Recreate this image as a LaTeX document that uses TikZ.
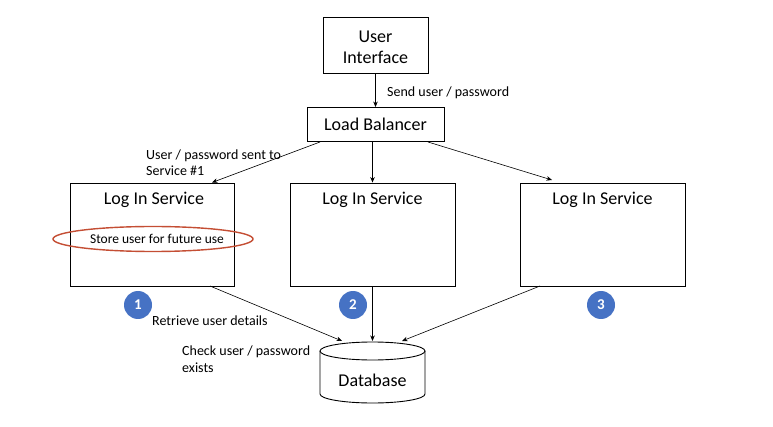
\documentclass[tikz,border=0pt]{standalone}
\usepackage{fontspec}
\setmainfont{Carlito}
\usetikzlibrary{arrows.meta,shapes.geometric}
\definecolor{numblue}{RGB}{70,114,196}
\definecolor{ringred}{RGB}{196,78,52}
\begin{document}
\begin{tikzpicture}[x=1pt,y=-1pt,
  box/.style={draw,line width=0.9pt,inner sep=0pt},
  boxtext/.style={font=\fontsize{18}{21}\selectfont},
  lbl/.style={font=\fontsize{14}{16.5}\selectfont,align=left,inner sep=0pt},
  conn/.style={line width=0.6pt,-{Stealth[length=5.5pt,width=4.5pt]}},
  num/.style={circle,fill=numblue,text=white,minimum size=28pt,inner sep=0pt,font=\fontsize{15}{17}\selectfont\bfseries}]
\useasboundingbox (0,0) rectangle (773,427);
% boxes
\node[box,minimum width=105pt,minimum height=56pt,inner sep=0pt] (ui) at (375.5,45.5) {};
\node[boxtext,align=center] (uit) at (375.5,47) {User\\Interface};
\node[box,minimum width=137pt,minimum height=34pt,boxtext] (lb) at (375.5,124.5) {Load Balancer};
\node[box,minimum width=164pt,minimum height=103pt] (s1) at (152,234.5) {};
\node[box,minimum width=165pt,minimum height=103pt] (s2) at (372.5,234.5) {};
\node[box,minimum width=165pt,minimum height=103pt] (s3) at (602.5,234.5) {};
\node[boxtext,anchor=base] (t1) at (154,205) {Log In Service};
\node[boxtext,anchor=base] (t2) at (372.5,205) {Log In Service};
\node[boxtext,anchor=base] (t3) at (602.5,205) {Log In Service};
% highlighted note
\node[draw=ringred,line width=1.4pt,ellipse,minimum width=200pt,minimum height=25pt,inner sep=0pt] (ring) at (153,239) {};
\node[lbl,font=\fontsize{13.5}{15}\selectfont,anchor=base] (store) at (157,244) {Store user for future use};
% number badges
\node[num] (n1) at (138,305) {1};
\node[num] (n2) at (353,305) {2};
\node[num] (n3) at (601,305) {3};
% database cylinder
\node[minimum width=105pt,minimum height=61pt,inner sep=0pt] (db) at (372.5,372) {};
\draw[line width=0.9pt,fill=white] (320,351) -- (320,394) arc[start angle=180,end angle=360,x radius=52.5pt,y radius=9pt] -- (425,351);
\draw[line width=0.9pt] (372.5,351) ellipse[x radius=52.5pt,y radius=9pt];
\node[boxtext,anchor=base] (dbt) at (372.5,386) {Database};
\coordinate (d1) at (342,341);
\coordinate (d2) at (372.5,341);
\coordinate (d3) at (402,341);
% connectors
\draw[conn] (ui.south) -- (lb.north);
\coordinate (lbl1) at (320,142);
\coordinate (lbm) at (372.5,142);
\coordinate (lbr) at (428,142);
\draw[conn] (lbl1) -- (212,182.5) coordinate (s1in);
\draw[conn] (lbm) -- (s2.north);
\draw[conn] (lbr) -- (552,180) coordinate (s3in);
\coordinate (s1o) at (210,286);
\coordinate (s3o) at (540,286);
\draw[conn] (s1o) -- (d1);
\draw[conn] (s2.south) -- (d2);
\draw[conn] (s3o) -- (d3);
% labels
\node[lbl,anchor=base west] (l1) at (387,96.5) {Send user / password};
\node[lbl,anchor=base west] (l2) at (146,176) {User / password sent to\\Service \#1};
\node[lbl,anchor=base west] (l3) at (152,326) {Retrieve user details};
\node[lbl,anchor=base west] (l4) at (182,372) {Check user / password\\exists};
\end{tikzpicture}
\end{document}
